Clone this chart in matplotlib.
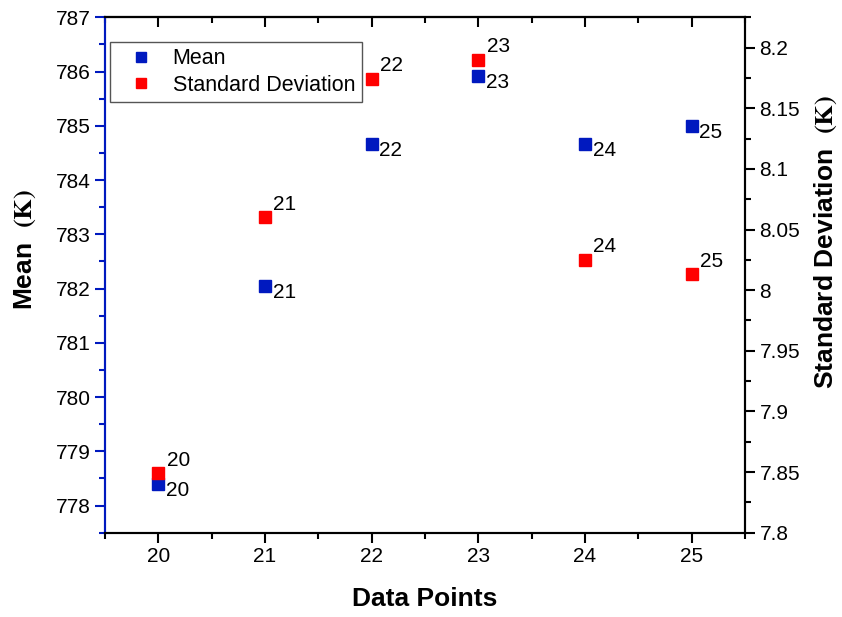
import matplotlib
matplotlib.use("Agg")
import matplotlib.pyplot as plt
from matplotlib.ticker import MultipleLocator, NullFormatter

plt.rcParams['font.family'] = ['Liberation Sans', 'DejaVu Sans']
plt.rcParams['mathtext.fontset'] = 'stix'

# Data
points = [20, 21, 22, 23, 24, 25]
mean_vals = [778.40, 782.05, 784.66, 785.91, 784.66, 785.00]
std_vals = [7.849, 8.060, 8.174, 8.190, 8.025, 8.013]
point_labels = ['20', '21', '22', '23', '24', '25']

blue = '#0019BF'
red = '#FF0000'

fig = plt.figure(figsize=(8.42, 6.17), dpi=100)
ax = fig.add_axes([0.1247, 0.1366, 0.7601, 0.8354])
ax2 = ax.twinx()

# Mean on the left axis
m1, = ax.plot(points, mean_vals, 's', color=blue, markersize=8, linestyle='none', label='Mean')
for x, y, lab in zip(points, mean_vals, point_labels):
    ax.annotate(lab, (x, y), xytext=(5.5, -4.6), textcoords='offset points',
                ha='left', va='center', fontsize=15)

# Standard deviation on the right axis
m2, = ax2.plot(points, std_vals, 's', color=red, markersize=8, linestyle='none', label='Standard Deviation')
for x, y, lab in zip(points, std_vals, point_labels):
    ax2.annotate(lab, (x, y), xytext=(6, 9.5), textcoords='offset points',
                 ha='left', va='center', fontsize=15)

ax.set_xlim(19.5, 25.5)
ax.set_ylim(777.5, 787)
ax2.set_ylim(7.8, 8.225)

ax.xaxis.set_major_locator(MultipleLocator(1))
ax.xaxis.set_minor_locator(MultipleLocator(0.5))
ax.yaxis.set_major_locator(MultipleLocator(1))
ax.yaxis.set_minor_locator(MultipleLocator(0.5))
ax2.yaxis.set_major_locator(MultipleLocator(0.05))
ax2.yaxis.set_minor_locator(MultipleLocator(0.025))
ax2.yaxis.set_major_formatter(plt.FuncFormatter(lambda v, p: f'{v:g}'))

ax.tick_params(axis='x', which='both', direction='out', labelsize=15, width=1.5)
ax.tick_params(axis='x', which='major', length=7)
ax.tick_params(axis='x', which='minor', length=4)
ax.tick_params(axis='y', which='both', direction='out', colors=blue, labelcolor='black',
               labelsize=15, width=1.5)
ax.tick_params(axis='y', which='major', length=7)
ax.tick_params(axis='y', which='minor', length=4)
ax2.tick_params(axis='y', which='both', direction='out', labelsize=15, width=1.5)
ax2.tick_params(axis='y', which='major', length=7)
ax2.tick_params(axis='y', which='minor', length=4)

# top axis: ticks pointing inward, no labels
top = ax.secondary_xaxis('top')
top.xaxis.set_major_locator(MultipleLocator(1))
top.xaxis.set_minor_locator(MultipleLocator(0.5))
top.xaxis.set_major_formatter(NullFormatter())
top.tick_params(which='both', direction='in', width=1.5)
top.tick_params(which='major', length=7)
top.tick_params(which='minor', length=4)
top.spines['top'].set_linewidth(1.5)

for sp in ['top', 'bottom', 'right']:
    ax2.spines[sp].set_linewidth(1.5)
ax2.spines['left'].set_color(blue)
ax2.spines['left'].set_linewidth(1.5)
for sp in ax.spines.values():
    sp.set_linewidth(1.5)
ax.spines['left'].set_color(blue)

ax.set_xlabel('Data Points', fontsize=19, fontweight='bold', labelpad=15)
ax.set_ylabel(r'Mean  $\mathbf{(K)}$', fontsize=19, fontweight='bold')
ax.yaxis.set_label_coords(-0.105, 0.549)
ax2.set_ylabel(r'Standard Deviation  $\mathbf{(K)}$', fontsize=19, fontweight='bold')
ax2.yaxis.set_label_coords(1.106, 0.564)

leg = ax.legend(handles=[m1, m2], loc='upper left', bbox_to_anchor=(0.008, 0.952),
                borderaxespad=0, fontsize=15.5, frameon=True, fancybox=False,
                framealpha=1, edgecolor='#555555', handlelength=2.3, handletextpad=0.3,
                labelspacing=0.25, borderpad=0.3, markerscale=0.9)
leg.get_frame().set_linewidth(1)
leg.set_zorder(10)

fig.savefig('out.png', dpi=100)
